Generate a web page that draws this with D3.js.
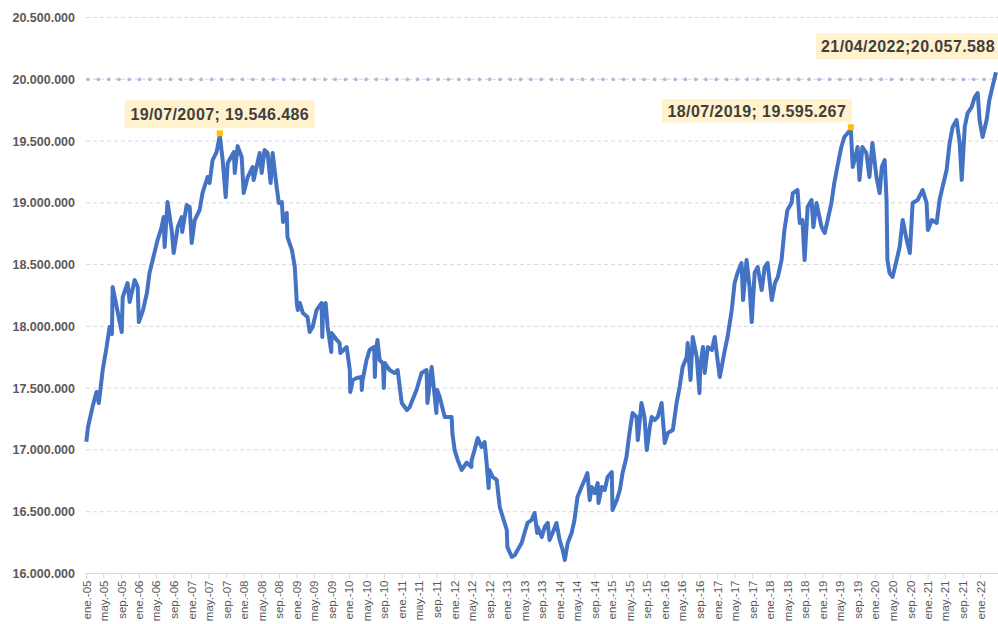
<!DOCTYPE html>
<html><head><meta charset="utf-8">
<script src="https://cdn.jsdelivr.net/npm/d3@7"></script>
<style>body{margin:0;background:#fff} svg{display:block}</style>
</head><body>
<svg id="c" width="998" height="624"></svg>
<script>
// ---- DATA (afiliados, miles) ----
const fechas = [
"2005-01-03","2005-01-15","2005-02-15","2005-03-15","2005-03-31","2005-04-27","2005-05-24","2005-06-14","2005-06-30","2005-07-05",
"2005-08-02","2005-09-06","2005-09-13","2005-10-17","2005-10-31","2005-12-05","2005-12-26","2006-01-03","2006-02-01","2006-02-28",
"2006-03-18","2006-04-09","2006-05-13","2006-06-10","2006-06-24","2006-07-01","2006-07-21","2006-08-19","2006-09-02","2006-09-30",
"2006-10-28","2006-10-31","2006-12-01","2006-12-22","2007-01-05","2007-01-26","2007-03-01","2007-03-21","2007-04-25","2007-05-09",
"2007-05-30","2007-06-27","2007-07-19","2007-08-08","2007-08-29","2007-09-12","2007-10-25","2007-10-31","2007-11-20","2007-12-18",
"2008-01-01","2008-01-29","2008-03-03","2008-03-10","2008-04-21","2008-05-05","2008-05-25","2008-06-15","2008-07-06","2008-07-20",
"2008-08-17","2008-09-01","2008-09-22","2008-09-30","2008-10-26","2008-10-31","2008-12-01","2008-12-21","2009-01-04","2009-01-10",
"2009-01-25","2009-02-15","2009-03-19","2009-04-03","2009-04-24","2009-05-21","2009-06-25","2009-06-30","2009-07-05","2009-07-23",
"2009-08-06","2009-08-31","2009-09-03","2009-10-08","2009-10-28","2009-11-02","2009-12-16","2010-01-07","2010-01-10","2010-01-28",
"2010-02-25","2010-03-29","2010-03-31","2010-04-05","2010-05-03","2010-05-24","2010-06-25","2010-06-30","2010-07-05","2010-07-18",
"2010-08-02","2010-08-25","2010-08-31","2010-09-06","2010-10-10","2010-11-14","2010-12-05","2010-12-31","2011-01-03","2011-02-07",
"2011-02-27","2011-03-18","2011-04-15","2011-05-20","2011-06-24","2011-06-30","2011-07-29","2011-08-10","2011-08-31","2011-09-05",
"2011-09-23","2011-10-28","2011-12-15","2011-12-20","2012-01-05","2012-01-26","2012-02-23","2012-03-28","2012-04-30","2012-05-02",
"2012-05-22","2012-06-13","2012-07-10","2012-07-31","2012-08-14","2012-08-28","2012-09-01","2012-09-25","2012-10-23","2012-11-13",
"2012-12-04","2013-01-01","2013-01-05","2013-02-05","2013-02-26","2013-03-17","2013-04-14","2013-05-04","2013-05-25","2013-06-22",
"2013-07-13","2013-07-31","2013-08-03","2013-09-01","2013-09-21","2013-10-12","2013-10-25","2013-11-15","2013-12-12","2014-01-03",
"2014-01-24","2014-02-08","2014-02-28","2014-03-27","2014-04-16","2014-05-07","2014-06-04","2014-06-25","2014-07-15","2014-07-31",
"2014-08-13","2014-09-03","2014-09-24","2014-09-30","2014-10-22","2014-11-12","2014-12-02","2014-12-31","2015-01-05","2015-02-04",
"2015-02-25","2015-03-16","2015-04-12","2015-05-03","2015-05-24","2015-06-21","2015-06-30","2015-07-25","2015-08-15","2015-08-31",
"2015-09-21","2015-10-04","2015-10-25","2015-11-15","2015-12-12","2016-01-03","2016-01-24","2016-02-28","2016-03-25","2016-04-15",
"2016-05-06","2016-06-03","2016-06-10","2016-06-30","2016-07-15","2016-08-12","2016-08-31","2016-09-05","2016-09-24","2016-10-06",
"2016-10-28","2016-11-25","2016-12-15","2017-01-06","2017-01-19","2017-02-23","2017-03-14","2017-04-12","2017-05-02","2017-05-22",
"2017-06-19","2017-06-30","2017-07-24","2017-08-14","2017-08-29","2017-09-18","2017-10-09","2017-11-06","2017-11-27","2017-12-17",
"2018-01-15","2018-02-06","2018-02-26","2018-03-24","2018-04-13","2018-05-04","2018-06-01","2018-06-10","2018-07-13","2018-07-28",
"2018-08-16","2018-08-31","2018-09-21","2018-10-18","2018-10-31","2018-11-22","2018-12-12","2018-12-27","2019-01-18","2019-02-07",
"2019-03-05","2019-03-25","2019-04-15","2019-05-13","2019-06-03","2019-07-18","2019-07-31","2019-08-13","2019-09-03","2019-09-16",
"2019-10-06","2019-11-03","2019-11-24","2019-12-15","2020-01-12","2020-02-03","2020-02-18","2020-03-09","2020-03-22","2020-03-28",
"2020-04-12","2020-05-03","2020-05-31","2020-06-21","2020-07-12","2020-08-09","2020-08-31","2020-09-19","2020-10-24","2020-11-28",
"2020-12-25","2021-01-03","2021-01-31","2021-03-05","2021-03-25","2021-04-15","2021-05-13","2021-06-03","2021-06-24","2021-07-21",
"2021-08-12","2021-08-26","2021-09-16","2021-10-06","2021-11-03","2021-11-24","2021-12-15","2021-12-28","2022-01-18","2022-02-15",
"2022-03-06","2022-03-27","2022-04-21"
];
const afiliadosMiles = [
17067,17186,17347,17469,17380,17647,17833,17995,17938,18319,
18157,17954,18238,18351,18197,18375,18319,18035,18132,18270,
18432,18537,18699,18804,18885,18642,19007,18780,18594,18804,
18885,18764,18982,18966,18675,18861,18942,19079,19209,19160,
19346,19411,19546.486,19346,19047,19322,19411,19241,19459,19371,
19079,19209,19290,19184,19403,19241,19427,19403,19160,19403,
19128,18998,19006,18845,18918,18723,18618,18480,18189,18132,
18189,18108,18076,17954,17995,18132,18189,17914,18170,18189,
17995,17793,17946,17890,17865,17785,17833,17647,17469,17566,
17582,17590,17485,17560,17728,17809,17833,17590,17790,17890,
17728,17700,17501,17704,17647,17623,17647,17404,17380,17323,
17347,17404,17485,17623,17647,17380,17671,17540,17299,17485,
17428,17267,17267,17137,16999,16919,16838,16898,16862,16919,
16999,17097,17024,17064,16894,16692,16838,16781,16757,16538,
16457,16352,16214,16134,16150,16190,16247,16328,16409,16433,
16490,16328,16376,16295,16376,16409,16271,16328,16409,16271,
16190,16109,16247,16328,16433,16619,16700,16757,16813,16595,
16700,16651,16732,16571,16700,16676,16781,16821,16514,16595,
16676,16813,16943,17137,17299,17267,17080,17380,17267,16999,
17186,17267,17242,17267,17380,17056,17137,17161,17380,17509,
17671,17752,17865,17566,17914,17752,17461,17671,17833,17623,
17833,17809,17914,17704,17590,17809,17914,18132,18351,18432,
18513,18213,18537,18319,18035,18432,18480,18294,18480,18513,
18213,18351,18400,18537,18780,18942,18998,19079,19104,18837,
18861,18537,18966,19023,18804,18998,18885,18804,18756,18861,
18998,19160,19290,19452,19533,19595.267,19290,19346,19452,19185,
19452,19403,19209,19484,19209,19079,19290,19346,19023,18537,
18432,18400,18537,18642,18861,18699,18594,18998,19023,19104,
18998,18780,18861,18837,19023,19128,19266,19484,19614,19670,
19484,19185,19614,19727,19775,19856,19889,19670,19533,19670,
19832,19937,20057.588
];
const yTickValues = [16000000,16500000,17000000,17500000,18000000,18500000,19000000,19500000,20000000,20500000];
const mesesAbrev = ["ene.","feb.","mar.","abr.","may.","jun.","jul.","ago.","sep.","oct.","nov.","dic."];
const referencia = 20000000;
const maximosFechas = ["2007-07-19","2019-07-18","2022-04-21"];
const maximosValores = [19546486,19595267,20057588];
const maximosTextos = ["19/07/2007; 19.546.486","18/07/2019; 19.595.267","21/04/2022;20.057.588"];

// ---- CHART ----
const svg = d3.select("#c");
const parse = d3.timeParse("%Y-%m-%d");
const data = fechas.map((f,i)=>({date:parse(f), v:afiliadosMiles[i]*1000}));

const L = 86, R = 996, T = 17.5, B = 573.5;
const x = d3.scaleTime().domain([new Date(2005,0,1), parse("2022-04-21")]).range([L,R]);
const y = d3.scaleLinear().domain([16000000,20500000]).range([B,T]);

const loc = d3.formatLocale({decimal:",",thousands:".",grouping:[3],currency:["","€"]});
const fmt = loc.format(",.0f");

// gridlines
svg.append("g").selectAll("line").data(yTickValues.filter(v=>v>16000000)).join("line")
  .attr("x1",L).attr("x2",998).attr("y1",d=>y(d)).attr("y2",d=>y(d))
  .attr("stroke","#d9d9d9").attr("stroke-width",1).attr("stroke-dasharray","4,3");

// y axis labels
const yAxis = svg.append("g").attr("transform",`translate(${L},0)`)
  .call(d3.axisLeft(y).tickValues(yTickValues).tickSize(0).tickPadding(11).tickFormat(fmt));
yAxis.select(".domain").remove();
yAxis.selectAll("text").attr("fill","#595959").style("font-family","'Liberation Sans',Arial,sans-serif")
  .style("font-size","12.5px").style("font-weight","bold");

// x axis
const tickDates = d3.timeMonth.every(4).range(new Date(2005,0,1), new Date(2022,0,2));
const xAxis = svg.append("g").attr("transform",`translate(0,${B})`)
  .call(d3.axisBottom(x).tickValues(tickDates).tickSize(5).tickSizeOuter(0)
    .tickFormat(d=>mesesAbrev[d.getMonth()]+"-"+d3.timeFormat("%y")(d)));
xAxis.select(".domain").remove();
xAxis.selectAll(".tick line").attr("stroke","#d9d9d9");
xAxis.selectAll("text").attr("fill","#595959")
  .style("font-family","'Liberation Sans',Arial,sans-serif").style("font-size","11.5px")
  .attr("transform","rotate(-90)").attr("y",0).attr("x",-7).attr("dy","0.35em").style("text-anchor","end");
svg.append("line").attr("x1",L).attr("x2",998).attr("y1",B).attr("y2",B).attr("stroke","#d9d9d9");

// reference line 20.000.000 dotted
svg.append("line").attr("x1",L+2).attr("x2",R).attr("y1",y(referencia)).attr("y2",y(referencia))
  .attr("stroke","#a9bbdf").attr("stroke-width",3.8).attr("stroke-linecap","round").attr("stroke-dasharray","0,10.3");

// series line
svg.append("path").datum(data)
  .attr("d", d3.line().x(d=>x(d.date)).y(d=>y(d.v)))
  .attr("fill","none").attr("stroke","#4472C4").attr("stroke-width",4).attr("stroke-linejoin","round");

// annotations
const fontA = "'Liberation Sans',Arial,sans-serif";
const boxes = [
  {dx:-95, dyTop:-35, w:190, h:28},
  {dx:-189, dyTop:-30, w:190, h:23},
  {dx:-180, dyTop:-39, w:184, h:26}
];
maximosFechas.forEach((f,i)=>{
  const mx = x(parse(f)), my = y(maximosValores[i]);
  const b = boxes[i];
  const g = svg.append("g");
  g.append("rect").attr("x",mx+b.dx).attr("y",my+b.dyTop).attr("width",b.w).attr("height",b.h).attr("fill","#fff2cc");
  g.append("text").attr("x",mx+b.dx+b.w/2).attr("y",my+b.dyTop+b.h/2).attr("dy","0.36em")
    .attr("text-anchor","middle").attr("fill","#3f3f3f")
    .style("font-family",fontA).style("font-size","16px").style("font-weight","bold").style("letter-spacing","0.4px")
    .text(maximosTextos[i]);
  if(i<2) svg.append("rect").attr("x",mx-3).attr("y",my-5).attr("width",6).attr("height",6).attr("fill","#ffc000");
});
</script>
</body></html>
